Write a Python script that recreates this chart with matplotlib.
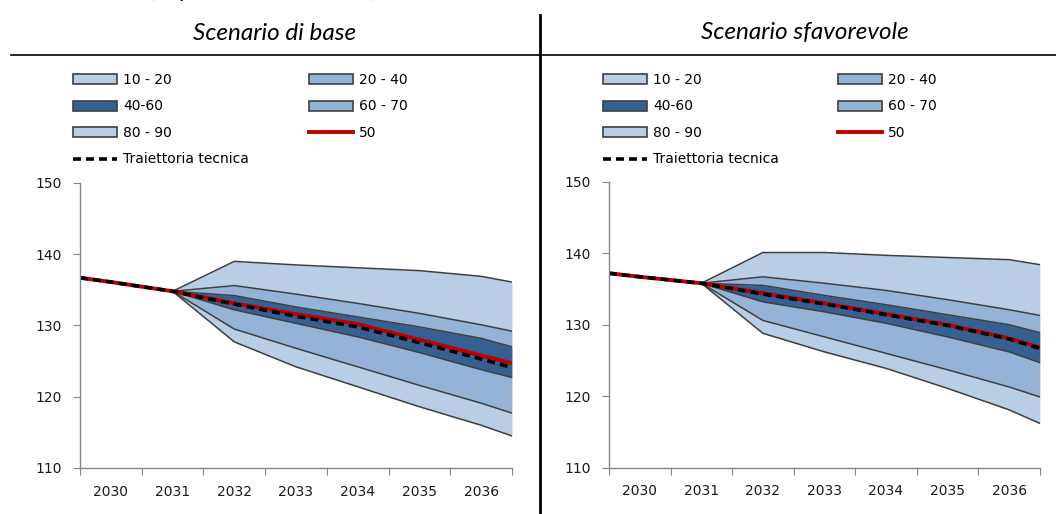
import matplotlib
matplotlib.use("Agg")
import matplotlib.pyplot as plt
from matplotlib.patches import Patch
from matplotlib.lines import Line2D
import numpy as np

# categories (anni) - punti a meta' anno, piu' i bordi sinistro/destro del grafico
years = ['2030', '2031', '2032', '2033', '2034', '2035', '2036']
# posizioni: bordo sx, centri delle categorie, bordo dx
x_all = [-0.5, 0, 1, 2, 3, 4, 5, 6, 6.5]
x_fan = [1, 2, 3, 4, 5, 6, 6.5]   # il ventaglio parte dal 2031

# --- Scenario di base ---
base_p50 = [136.7, 136.1, 134.8, 133.1, 131.6, 130.2, 128.0, 125.8, 124.7]
base_tec = [136.7, 136.1, 134.8, 133.0, 131.3, 129.8, 127.6, 125.3, 124.1]
base_p90 = [134.8, 139.0, 138.5, 138.1, 137.7, 136.9, 136.1]
base_p80 = [134.8, 135.6, 134.4, 133.1, 131.7, 130.1, 129.2]
base_p60 = [134.8, 134.2, 132.6, 131.2, 129.8, 128.2, 127.0]
base_p40 = [134.8, 132.2, 130.3, 128.4, 126.2, 123.8, 122.7]
base_p20 = [134.8, 129.5, 126.8, 124.2, 121.6, 119.1, 117.7]
base_p10 = [134.8, 127.7, 124.2, 121.4, 118.6, 116.0, 114.5]

# --- Scenario sfavorevole ---
sfav_p50 = [137.2, 136.7, 135.8, 134.4, 133.0, 131.5, 130.0, 128.1, 126.8]
sfav_tec = [137.2, 136.7, 135.8, 134.3, 132.9, 131.4, 129.9, 128.0, 126.7]
sfav_p90 = [135.8, 140.1, 140.1, 139.7, 139.4, 139.1, 138.4]
sfav_p80 = [135.8, 136.7, 135.8, 134.8, 133.5, 132.1, 131.3]
sfav_p60 = [135.8, 135.5, 134.1, 132.8, 131.4, 130.0, 128.9]
sfav_p40 = [135.8, 133.2, 131.8, 130.2, 128.3, 126.2, 124.7]
sfav_p20 = [135.8, 130.6, 128.3, 126.0, 123.7, 121.3, 119.9]
sfav_p10 = [135.8, 128.8, 126.2, 123.9, 121.1, 118.1, 116.2]

c_light = '#B9CDE5'
c_mid = '#95B3D7'
c_dark = '#376092'
c_edge = '#3F3F3F'
c_red = '#C00000'
c_axis = '#868686'


def draw_fan(ax, p10, p20, p40, p60, p80, p90, p50, tec):
    ax.fill_between(x_fan, p80, p90, color=c_light, lw=0)
    ax.fill_between(x_fan, p60, p80, color=c_mid, lw=0)
    ax.fill_between(x_fan, p40, p60, color=c_dark, lw=0)
    ax.fill_between(x_fan, p20, p40, color=c_mid, lw=0)
    ax.fill_between(x_fan, p10, p20, color=c_light, lw=0)
    for s in [p10, p20, p40, p60, p80, p90]:
        ax.plot(x_fan, s, color=c_edge, lw=1.1)
    ax.plot(x_all, p50, color=c_red, lw=2.8, solid_capstyle='butt')
    ax.plot(x_all, tec, color='black', lw=2.6, ls=(0, (2.2, 1.4)))

    ax.set_xlim(-0.5, 6.5)
    ax.set_ylim(110, 150)
    ax.set_yticks([110, 120, 130, 140, 150])
    ax.set_xticks(np.arange(-0.5, 7, 1))
    ax.set_xticklabels([])
    ax.set_xticks(range(len(years)), minor=True)
    ax.set_xticklabels(years, minor=True)
    ax.tick_params(axis='x', which='minor', length=0, pad=12, labelsize=10, labelcolor='#1a1a1a')
    ax.tick_params(axis='x', which='major', length=5, color=c_axis, direction='out')
    ax.tick_params(axis='y', length=5, color=c_axis, pad=8, labelsize=10, labelcolor='#1a1a1a')
    for side in ['top', 'right']:
        ax.spines[side].set_visible(False)
    for side in ['left', 'bottom']:
        ax.spines[side].set_color(c_axis)
        ax.spines[side].set_linewidth(1.0)

    # legenda su due colonne (fuori dal grafico, in alto)
    col1 = [Patch(facecolor=c_light, edgecolor=c_edge, lw=1.2, label='10 - 20'),
            Patch(facecolor=c_dark, edgecolor=c_edge, lw=1.2, label='40-60'),
            Patch(facecolor=c_light, edgecolor=c_edge, lw=1.2, label='80 - 90'),
            Line2D([], [], color='black', lw=2.6, ls=(0, (2.2, 1.4)), label='Traiettoria tecnica')]
    col2 = [Patch(facecolor=c_mid, edgecolor=c_edge, lw=1.2, label='20 - 40'),
            Patch(facecolor=c_mid, edgecolor=c_edge, lw=1.2, label='60 - 70'),
            Line2D([], [], color=c_red, lw=2.8, label='50')]
    return col1, col2


fig = plt.figure(figsize=(10.56, 5.14), dpi=100)
ax1 = fig.add_axes([0.0758, 0.0895, 0.409, 0.5545])
ax2 = fig.add_axes([0.5767, 0.0900, 0.408, 0.5565])

for ax, data, lx1, lx2 in [
        (ax1, (base_p10, base_p20, base_p40, base_p60, base_p80, base_p90, base_p50, base_tec), 73, 309),
        (ax2, (sfav_p10, sfav_p20, sfav_p40, sfav_p60, sfav_p80, sfav_p90, sfav_p50, sfav_tec), 603, 838)]:
    col1, col2 = draw_fan(ax, *data)
    leg_kw = dict(frameon=False, fontsize=10, handlelength=3.2, handleheight=0.75,
                  handletextpad=0.4, labelspacing=0.9, borderpad=0, borderaxespad=0,
                  loc='upper left')
    fig.legend(handles=col1, bbox_to_anchor=(lx1 / 1056, 1 - 73 / 514), **leg_kw)
    fig.legend(handles=col2, bbox_to_anchor=(lx2 / 1056, 1 - 73 / 514), **leg_kw)

# titoli dei pannelli
fig.text(275 / 1056, 1 - 33 / 514, 'Scenario di base', ha='center', va='center',
         fontsize=17.5, style='italic', family='Lato')
fig.text(805 / 1056, 1 - 33 / 514, 'Scenario sfavorevole', ha='center', va='center',
         fontsize=17.5, style='italic', family='Lato')
fig.text(264 / 1056, 1 + 3 / 514, '(in percentuale del PIL)', ha='center', va='baseline',
         fontsize=17.5, style='italic', family='Lato')

# linee di separazione
fig.add_artist(Line2D([11 / 1056, 1.0], [1 - 55 / 514, 1 - 55 / 514], color='black', lw=1.2))
fig.add_artist(Line2D([540 / 1056, 540 / 1056], [0, 1 - 15 / 514], color='black', lw=2))

fig.savefig('out.png', dpi=100)
